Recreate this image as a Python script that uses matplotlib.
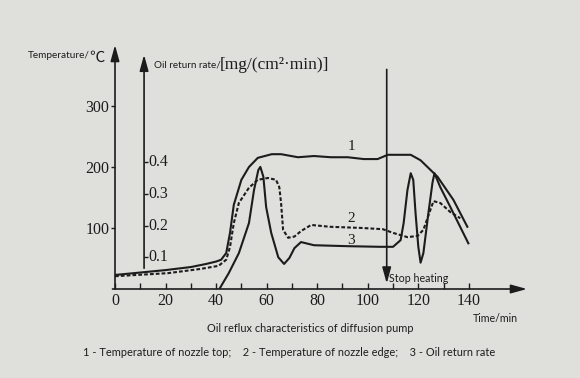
import matplotlib.pyplot as plt
from matplotlib.ticker import FixedLocator

# curve 1 - temperature of nozzle top (deg C)
time_top = [0, 10, 20, 30, 36, 40, 42, 44, 45.5, 47, 50, 53, 56.5, 62, 65.7, 72.4, 78.7, 85.4, 92.1,
            98.4, 103.9, 107.9, 117, 120.9, 127.6, 133.9, 139.4]
temp_top = [23, 27, 31, 36, 41, 45, 48, 59, 92, 138, 179, 200, 215, 221, 221, 216, 218, 216, 216,
            213, 213, 220, 220, 211, 184, 146, 102]

# curve 2 - temperature of nozzle edge (deg C)
time_edge = [0, 21, 34, 41, 44, 45.5, 47, 49, 53, 56.5, 60.5, 63.7, 65, 65.7, 66.5, 68.5, 71, 73.6,
             77.6, 85, 98, 106, 110, 115.7, 119.7, 122, 124.8, 126, 128.7, 132.7, 136.6]
temp_edge = [21, 26, 33, 38, 48, 69, 108, 141, 166, 179, 182, 179, 167, 141, 97, 84, 86, 95,
             105, 102, 100, 98, 92, 85, 87, 97, 130, 144, 141, 126, 116]

# curve 3 - oil return rate, mg/(cm2*min)
time_rate = [41.3, 45, 49, 53, 55, 56.7, 57.5, 58.7, 59.8, 61.8, 64.6, 66.9, 69, 71, 73.6, 78.7, 92,
             105, 110, 113, 114.2, 115.7, 117, 118, 118.9, 120, 120.9, 122, 124, 125.6, 126.4,
             128.7, 132.7, 139.8]
oil_rate = [0.0, 0.05, 0.113, 0.208, 0.312, 0.375, 0.385, 0.354, 0.258, 0.177, 0.1, 0.079, 0.098,
            0.129, 0.148, 0.138, 0.135, 0.133, 0.133, 0.154, 0.208, 0.312, 0.365, 0.344, 0.24,
            0.133, 0.083, 0.113, 0.24, 0.335, 0.365, 0.321, 0.258, 0.144]

x_major = [0, 20, 40, 60, 80, 100, 120, 140]
x_minor = [10, 30, 50, 70, 90, 110, 130]
temp_ticks = [100, 200, 300]
rate_ticks = [0.1, 0.2, 0.3, 0.4]
stop_time = 107.5

bg = '#dfdfdc'
ink = '#1c1c1c'
sans = ['Lato', 'DejaVu Sans']
serif = ['Liberation Serif', 'DejaVu Serif']

fig = plt.figure(figsize=(5.8, 3.78), dpi=100, facecolor=bg)
ax = fig.add_axes([115 / 580, 1 - 289 / 378, (527 - 115) / 580, (289 - 45) / 378])
ax.set_facecolor('none')
ax.set_xlim(0, 163)
ax.set_ylim(0, 400)
for s in ax.spines.values():
    s.set_visible(False)

arrow = dict(arrowstyle='-|>,head_length=0.8,head_width=0.22', color=ink, lw=1.2,
             shrinkA=0, shrinkB=0, mutation_scale=12)
ax.annotate('', xy=(163, 0), xytext=(-1, 0), arrowprops=arrow)
ax.annotate('', xy=(0, 400), xytext=(0, 0), arrowprops=arrow)

# x ticks
ax.xaxis.set_major_locator(FixedLocator(x_major))
ax.xaxis.set_minor_locator(FixedLocator(x_minor))
ax.tick_params(axis='x', which='both', direction='in', length=4, width=1, color=ink,
               pad=3, labelsize=11.5, labelcolor=ink)
for lab in ax.get_xticklabels():
    lab.set_family(serif)

# temperature ticks
ax.yaxis.set_major_locator(FixedLocator(temp_ticks))
ax.tick_params(axis='y', direction='out', length=3, width=1, color=ink, pad=1,
               labelsize=11.5, labelcolor=ink)
for lab in ax.get_yticklabels():
    lab.set_family(serif)

# rate axis
rate_x = 11.5
ax2 = ax.twinx()
ax2.set_ylim(0, 400 / 520)
ax2.set_facecolor('none')
for s in ax2.spines.values():
    s.set_visible(False)
ax2.spines['left'].set_position(('data', rate_x))
ax2.yaxis.set_ticks_position('left')
ax2.yaxis.set_major_locator(FixedLocator(rate_ticks))
ax2.tick_params(axis='y', direction='in', length=3, width=1, color=ink, labelleft=False)
ax2.annotate('', xy=(rate_x, 384 / 520), xytext=(rate_x, 34 / 520), arrowprops=arrow)
for v in rate_ticks:
    ax2.text(rate_x + 1.6, v, f'{v:.1f}', family=serif, fontsize=11.5, color=ink,
             va='center', ha='left')

# curves
ax.plot(time_top, temp_top, color=ink, lw=1.5, solid_joinstyle='round')
ax.plot(time_edge, temp_edge, color=ink, lw=1.5, ls=(0, (1.8, 1.0)))
ax2.plot(time_rate, oil_rate, color=ink, lw=1.5, solid_joinstyle='round')

ax.text(93.5, 233, '1', family=serif, fontsize=11, color=ink, ha='center', va='center')
ax.text(93.5, 116, '2', family=serif, fontsize=11, color=ink, ha='center', va='center')
ax.text(93.5, 80, '3', family=serif, fontsize=11, color=ink, ha='center', va='center')

# stop heating
ax.annotate('', xy=(stop_time, 9), xytext=(stop_time, 360), arrowprops=arrow)
ax.text(stop_time + 0.8, 18, 'Stop heating', family=sans, fontsize=7.7, color=ink,
        ha='left', va='center')

W, H = 580, 378
fig.text(28 / W, 1 - 55 / H, 'Temperature/', family=sans, fontsize=7.2, color=ink, va='center')
fig.text(89 / W, 1 - 57 / H, '\u2103', family=['Noto Sans CJK SC', 'DejaVu Sans'], fontsize=11,
         color=ink, va='center')
fig.text(154 / W, 1 - 65 / H, 'Oil return rate/', family=sans, fontsize=7.1, color=ink, va='center')
fig.text(220 / W, 1 - 65 / H, '[mg/(cm\u00b2\u00b7min)]', family=serif, fontsize=12.5, color=ink,
         va='center')
fig.text(473 / W, 1 - 318 / H, 'Time/min', family=sans, fontsize=7.7, color=ink, va='center')
fig.text(310 / W, 1 - 328 / H, 'Oil reflux characteristics of diffusion pump', family=sans,
         fontsize=7.9, color=ink, ha='center', va='center')
fig.text(83 / W, 1 - 353 / H,
         '1 - Temperature of nozzle top;    2 - Temperature of nozzle edge;    3 - Oil return rate',
         family=sans, fontsize=7.9, color=ink, va='center')

fig.savefig('out.png', dpi=100, facecolor=bg)
